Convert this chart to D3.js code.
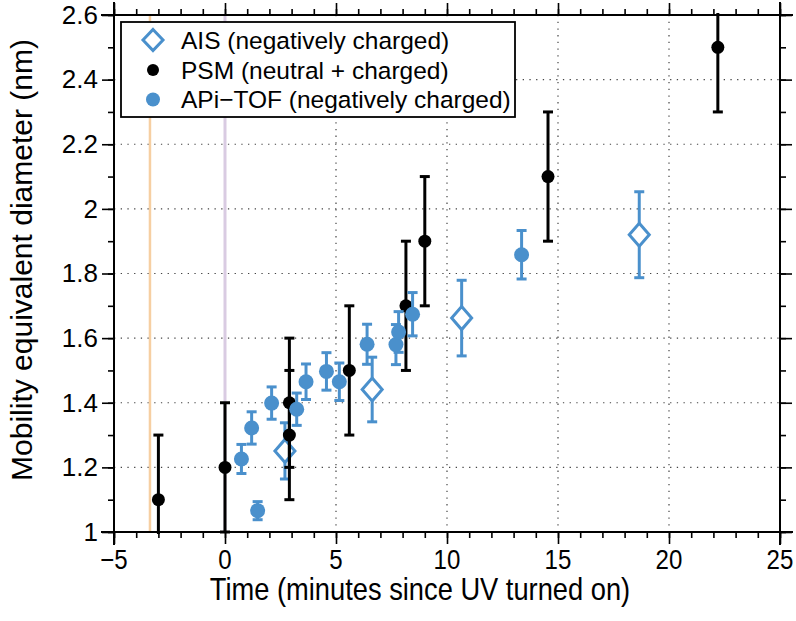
<!DOCTYPE html>
<html>
<head>
<meta charset="utf-8">
<script src="https://cdn.jsdelivr.net/npm/d3@7"></script>
<style>
  html, body { margin: 0; padding: 0; background: #fff; }
  svg { display: block; font-family: "Liberation Sans", Arial, Helvetica, sans-serif; }
</style>
</head>
<body>
<svg id="chart" width="796" height="621"></svg>
<script>
// ---- data ----
const psmX   = [-3, 0, 2.9, 2.9, 5.6, 8.15, 9.0, 14.55, 22.2];
const psmY   = [1.1, 1.2, 1.4, 1.3, 1.5, 1.7, 1.9, 2.1, 2.5];
const psmErr = [0.2, 0.2, 0.2, 0.2, 0.2, 0.2, 0.2, 0.2, 0.2];

const apiX   = [0.74, 1.2, 1.47, 2.1, 3.23, 3.65, 4.57, 5.15, 6.4, 7.7, 7.82, 8.45, 13.36];
const apiY   = [1.226, 1.322, 1.066, 1.399, 1.38, 1.465, 1.497, 1.465, 1.581, 1.58, 1.619, 1.674, 1.858];
const apiErr = [0.045, 0.05, 0.028, 0.05, 0.05, 0.055, 0.058, 0.058, 0.062, 0.062, 0.063, 0.067, 0.075];

const aisX   = [2.7, 6.63, 10.66, 18.66];
const aisY   = [1.251, 1.441, 1.662, 1.92];
const aisErr = [0.087, 0.1, 0.117, 0.133];

const markerLines = [-3.38, 0];
const xTicks = [-5, 0, 5, 10, 15, 20, 25];
const yTicks = [1, 1.2, 1.4, 1.6, 1.8, 2, 2.2, 2.4, 2.6];
const legendLabels = ["AIS (negatively charged)", "PSM (neutral + charged)", "APi\u2212TOF (negatively charged)"];
const xTitle = "Time (minutes since UV turned on)";
const yTitle = "Mobility equivalent diameter (nm)";

// ---- layout ----
const L = 114, R = 780, T = 15, B = 532;
const blue = "#4a90cc";
const svg = d3.select("#chart");
const x = d3.scaleLinear().domain([-5, 25]).range([L, R]);
const y = d3.scaleLinear().domain([1, 2.6]).range([B, T]);

svg.append("defs").append("clipPath").attr("id", "clip")
  .append("rect").attr("x", L - 2).attr("y", T - 2).attr("width", R - L + 4).attr("height", B - T + 4);

// grid
const grid = svg.append("g");
grid.selectAll(".gx").data(xTicks.filter(d => d > -5 && d < 25 && d !== 0)).enter().append("line")
  .attr("x1", d => x(d)).attr("x2", d => x(d)).attr("y1", T).attr("y2", B)
  .attr("stroke", "#444").attr("stroke-width", 1.2).attr("stroke-dasharray", "1.3,5.4");
grid.selectAll(".gy").data(yTicks.filter(d => d > 1 && d < 2.6)).enter().append("line")
  .attr("x1", L).attr("x2", R).attr("y1", d => y(d)).attr("y2", d => y(d))
  .attr("stroke", "#444").attr("stroke-width", 1.2).attr("stroke-dasharray", "1.3,5.4");

// vertical marker lines
svg.append("line").attr("x1", x(markerLines[0])).attr("x2", x(markerLines[0])).attr("y1", T).attr("y2", B)
  .attr("stroke", "#f6cfa2").attr("stroke-width", 2.5);
svg.append("line").attr("x1", x(markerLines[1])).attr("x2", x(markerLines[1])).attr("y1", T).attr("y2", B)
  .attr("stroke", "#d9cbe2").attr("stroke-width", 3);

// axes
function frameAxis(axis, transform) {
  const g = svg.append("g").attr("transform", transform).call(axis);
  g.select(".domain").remove();
  g.selectAll("line").attr("stroke", "#000").attr("stroke-width", 1.6);
  return g;
}
const xMinor = d3.range(-5, 25.5, 1);
const yMinor = d3.range(10, 26.5, 1).map(d => d / 10);
// bottom
frameAxis(d3.axisBottom(x).tickValues(xMinor).tickSize(6).tickFormat(""), `translate(0,${B})`);
frameAxis(d3.axisBottom(x).tickValues(xTicks).tickSize(12).tickFormat(""), `translate(0,${B})`);
// top
frameAxis(d3.axisTop(x).tickValues(xMinor).tickSize(6).tickFormat(""), `translate(0,${T})`);
frameAxis(d3.axisTop(x).tickValues(xTicks).tickSize(12).tickFormat(""), `translate(0,${T})`);
// left
frameAxis(d3.axisLeft(y).tickValues(yMinor).tickSize(6).tickFormat(""), `translate(${L},0)`);
const yl = frameAxis(d3.axisLeft(y).tickValues(yTicks).tickSize(12).tickPadding(4).tickFormat(d3.format("~g")), `translate(${L},0)`);
yl.selectAll("text").attr("font-size", 26).attr("fill", "#000").attr("font-family", null);
// right
frameAxis(d3.axisRight(y).tickValues(yMinor).tickSize(6).tickFormat(""), `translate(${R},0)`);
frameAxis(d3.axisRight(y).tickValues(yTicks).tickSize(12).tickFormat(""), `translate(${R},0)`);

// condensed x tick labels
svg.append("g").selectAll("text").data(xTicks).enter().append("text")
  .attr("transform", d => `translate(${x(d)},569) scale(0.86,1)`)
  .attr("text-anchor", "middle").attr("font-size", 28).attr("fill", "#000")
  .text(d => d < 0 ? "\u2212" + Math.abs(d) : d);

// frame lines extending beyond corners
const ext = 13;
svg.append("g").attr("stroke", "#000").attr("stroke-width", 2).selectAll("line")
  .data([[L - ext, B, R + ext, B], [L - ext, T, R + ext, T], [L, T - ext, L, B + ext], [R, T - ext, R, B + ext]])
  .enter().append("line")
  .attr("x1", d => d[0]).attr("y1", d => d[1]).attr("x2", d => d[2]).attr("y2", d => d[3]);

// titles
svg.append("text").attr("transform", `translate(420,600) scale(0.88,1)`)
  .attr("text-anchor", "middle").attr("font-size", 31).attr("fill", "#000").text(xTitle);
svg.append("text").attr("transform", `translate(32,260) rotate(-90)`)
  .attr("text-anchor", "middle").attr("font-size", 30).attr("fill", "#000").text(yTitle);

// data
const plot = svg.append("g").attr("clip-path", "url(#clip)");
const capW = 5;
function errorBars(g, xs, ys, es, color) {
  const idx = d3.range(xs.length);
  g.selectAll(null).data(idx).enter().append("line")
    .attr("x1", i => x(xs[i])).attr("x2", i => x(xs[i]))
    .attr("y1", i => y(ys[i] - es[i])).attr("y2", i => y(ys[i] + es[i]))
    .attr("stroke", color).attr("stroke-width", 3);
  [-1, 1].forEach(s => {
    g.selectAll(null).data(idx).enter().append("line")
      .attr("x1", i => x(xs[i]) - capW).attr("x2", i => x(xs[i]) + capW)
      .attr("y1", i => y(ys[i] + s * es[i])).attr("y2", i => y(ys[i] + s * es[i]))
      .attr("stroke", color).attr("stroke-width", 3);
  });
}
const diamond = (cx, cy, w, h) => `M${cx},${cy - h}L${cx + w},${cy}L${cx},${cy + h}L${cx - w},${cy}Z`;

// AIS
const gA = plot.append("g");
errorBars(gA, aisX, aisY, aisErr, blue);
gA.selectAll(null).data(d3.range(aisX.length)).enter().append("path")
  .attr("d", i => diamond(x(aisX[i]), y(aisY[i]), 10, 11.5))
  .attr("fill", "#fff").attr("stroke", blue).attr("stroke-width", 3);
// PSM
const gP = plot.append("g");
errorBars(gP, psmX, psmY, psmErr, "#000");
gP.selectAll(null).data(d3.range(psmX.length)).enter().append("circle")
  .attr("cx", i => x(psmX[i])).attr("cy", i => y(psmY[i])).attr("r", 6.5).attr("fill", "#000");
// APi-TOF
const gT = plot.append("g");
errorBars(gT, apiX, apiY, apiErr, blue);
gT.selectAll(null).data(d3.range(apiX.length)).enter().append("circle")
  .attr("cx", i => x(apiX[i])).attr("cy", i => y(apiY[i])).attr("r", 7.5).attr("fill", blue);

// legend
const lg = svg.append("g");
lg.append("rect").attr("x", 121).attr("y", 22).attr("width", 394).attr("height", 95)
  .attr("fill", "#fff").attr("stroke", "#000").attr("stroke-width", 1.8);
const rowY = [40, 70, 99.5];
lg.append("path").attr("d", diamond(153, rowY[0], 10, 10.5)).attr("fill", "#fff").attr("stroke", blue).attr("stroke-width", 3);
lg.append("circle").attr("cx", 153).attr("cy", rowY[1]).attr("r", 6).attr("fill", "#000");
lg.append("circle").attr("cx", 153).attr("cy", rowY[2]).attr("r", 7).attr("fill", blue);
lg.selectAll("text.lab").data(legendLabels).enter().append("text")
  .attr("x", 181).attr("y", (d, i) => rowY[i] + 8.5)
  .attr("font-size", 24.5).attr("fill", "#000").text(d => d);
</script>
</body>
</html>
